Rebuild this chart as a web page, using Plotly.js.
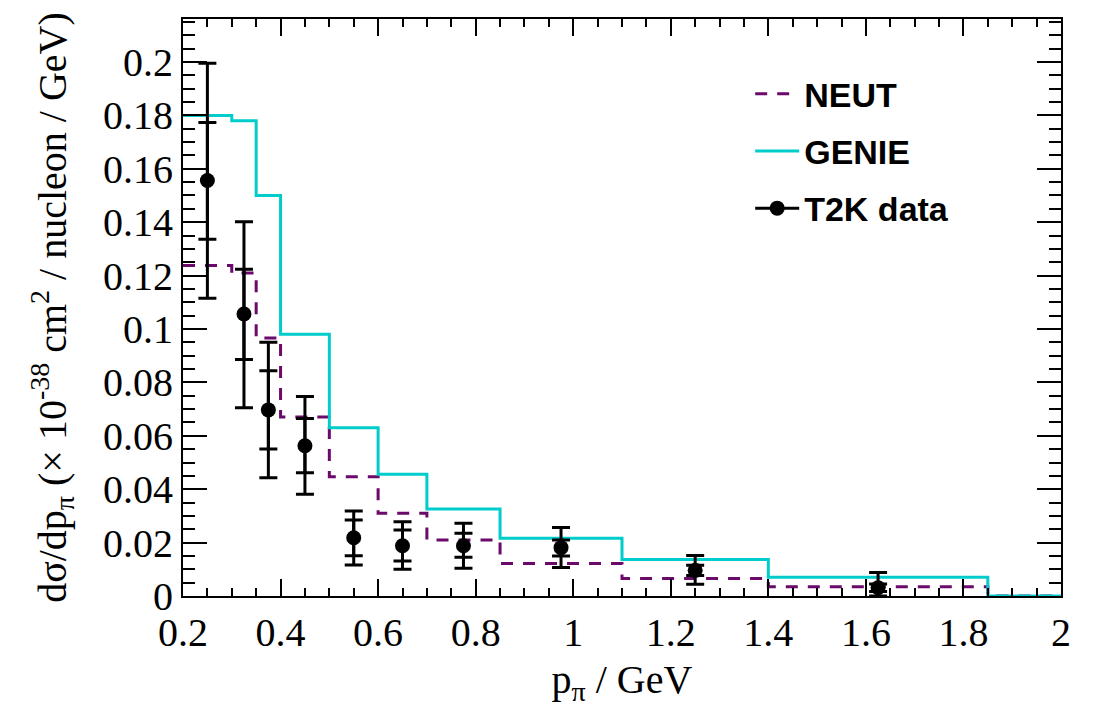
<!DOCTYPE html>
<html>
<head>
<meta charset="utf-8">
<script src="https://cdn.plot.ly/plotly-3.0.1.min.js"></script>
<style>html,body{margin:0;padding:0;background:#fff;}#chart{width:1099px;height:707px;}</style>
</head>
<body>
<div id="chart"></div>
<script>
// Bin edges (GeV) and model predictions per bin
const binEdges = [0.2, 0.3, 0.35, 0.4, 0.5, 0.6, 0.7, 0.85, 1.1, 1.4, 1.85, 2.0];
const genieValues = [0.180, 0.178, 0.150, 0.098, 0.063, 0.0456, 0.0326, 0.0216, 0.0137, 0.0070, 0.0];
const neutValues  = [0.1238, 0.1210, 0.0966, 0.0670, 0.0447, 0.0310, 0.0210, 0.0122, 0.0066, 0.0035, 0.0];

// T2K data points
const dataX       = [0.25, 0.325, 0.375, 0.45, 0.55, 0.65, 0.775, 0.975, 1.25, 1.625];
const dataY       = [0.1556, 0.1056, 0.0697, 0.0563, 0.0218, 0.0188, 0.0188, 0.0181, 0.0096, 0.0031];
const totalUpper  = [0.1995, 0.1402, 0.0950, 0.0747, 0.0318, 0.0278, 0.0272, 0.0257, 0.0152, 0.0088];
const totalLower  = [0.1115, 0.0705, 0.0443, 0.0381, 0.0116, 0.0100, 0.0104, 0.0107, 0.0044, 0.0];
const statUpper   = [0.1773, 0.1224, 0.0844, 0.0665, 0.0285, 0.0247, 0.0235, 0.0210, 0.0115, 0.0045];
const statLower   = [0.1336, 0.0886, 0.0551, 0.0462, 0.0151, 0.0131, 0.0145, 0.0150, 0.0077, 0.0017];

const xTickVals = [0.2, 0.4, 0.6, 0.8, 1, 1.2, 1.4, 1.6, 1.8, 2];

const stepY = v => v.concat([v[v.length - 1]]);
const up = (hi) => hi.map((h, i) => h - dataY[i]);
const dn = (lo) => lo.map((l, i) => dataY[i] - l);

const serif = "Liberation Serif, Times New Roman, serif";
const traces = [
  {
    x: binEdges, y: stepY(neutValues), type: 'scatter', mode: 'lines',
    line: {shape: 'hv', color: '#6b0a6b', width: 3, dash: '12px,10px'},
    name: 'NEUT', legendgroup: 'a', hoverinfo: 'skip'
  },
  {
    x: binEdges, y: stepY(genieValues), type: 'scatter', mode: 'lines',
    line: {shape: 'hv', color: '#00cccc', width: 3},
    name: 'GENIE', legendgroup: 'b', hoverinfo: 'skip'
  },
  {
    x: dataX, y: dataY, type: 'scatter', mode: 'markers',
    marker: {size: 1, color: 'rgba(0,0,0,0)'},
    error_y: {type: 'data', symmetric: false, array: up(statUpper), arrayminus: dn(statLower),
              color: 'black', thickness: 3, width: 9},
    showlegend: false, hoverinfo: 'skip'
  },
  {
    x: dataX, y: dataY, type: 'scatter', mode: 'markers',
    marker: {size: 15, color: 'black'},
    error_y: {type: 'data', symmetric: false, array: up(totalUpper), arrayminus: dn(totalLower),
              color: 'black', thickness: 3, width: 9},
    showlegend: false, name: 'T2K data'
  },
  {
    x: [null], y: [null], type: 'scatter', mode: 'lines+markers',
    line: {color: 'black', width: 3}, marker: {size: 15, color: 'black'},
    name: 'T2K data', legendgroup: 'c'
  }
];

const layout = {
  width: 1099, height: 707,
  paper_bgcolor: 'white', plot_bgcolor: 'white',
  margin: {l: 183, r: 38, t: 19, b: 111, pad: 0},
  font: {family: serif, size: 40, color: 'black'},
  showlegend: true,
  legend: {
    x: 0.646, y: 0.92, xanchor: 'left', yanchor: 'top',
    font: {family: 'Liberation Sans, Arial, sans-serif', size: 34, color: 'black', weight: 'bold'},
    bgcolor: 'rgba(255,255,255,0)', borderwidth: 0,
    traceorder: 'grouped', tracegroupgap: 10, itemwidth: 44
  },
  xaxis: {
    range: [0.2, 2.0], tickvals: xTickVals, ticktext: xTickVals.map(String),
    ticks: 'inside', ticklen: 17, tickwidth: 2, tickcolor: 'black',
    minor: {dtick: 0.05, tick0: 0.2, ticks: 'inside', ticklen: 8, tickwidth: 2, tickcolor: 'black', showgrid: false},
    showline: true, linewidth: 2, linecolor: 'black', mirror: 'ticks',
    showgrid: false, zeroline: false,
    tickfont: {family: serif, size: 40},
    title: {text: 'p<sub>π</sub> / GeV', font: {family: serif, size: 40}, standoff: 18},
    automargin: false
  },
  yaxis: {
    range: [0, 0.2161], dtick: 0.02, tick0: 0,
    ticks: 'inside', ticklen: 24, tickwidth: 2, tickcolor: 'black',
    minor: {dtick: 0.005, tick0: 0, ticks: 'inside', ticklen: 12, tickwidth: 2, tickcolor: 'black', showgrid: false},
    showline: true, linewidth: 2, linecolor: 'black', mirror: 'ticks',
    showgrid: false, zeroline: false,
    tickfont: {family: serif, size: 40},
    title: {text: 'dσ/dp<sub>π</sub> (× 10<sup>-38</sup> cm<sup>2</sup> / nucleon / GeV)', font: {family: serif, size: 40}, standoff: 24},
    automargin: false
  }
};

Plotly.newPlot('chart', traces, layout, {displayModeBar: false, staticPlot: true});
</script>
</body>
</html>
